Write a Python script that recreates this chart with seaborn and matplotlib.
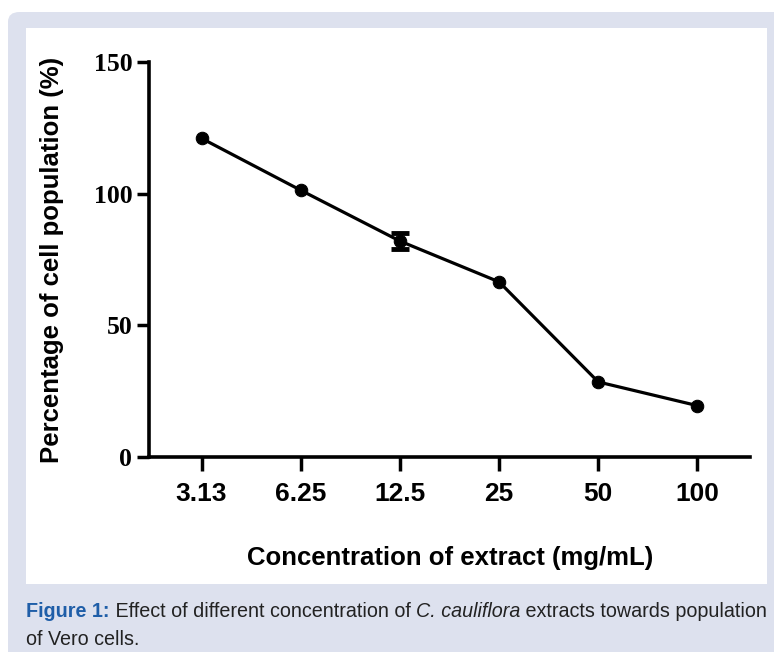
import matplotlib
matplotlib.use("Agg")
import matplotlib.pyplot as plt
from matplotlib.patches import FancyBboxPatch, Rectangle
import numpy as np
import pandas as pd
import seaborn as sns

# values
concentrations = ["3.13", "6.25", "12.5", "25", "50", "100"]
cell_population = [121.0, 101.3, 82.0, 66.5, 28.5, 19.5]
population_err = [0.0, 0.0, 3.2, 0.0, 0.0, 0.0]
y_ticks = [0, 50, 100, 150]

BAND = "#dde1ee"
CAPTION_BLUE = "#1f5ea8"


def main():
    sns.set_theme(style="white")
    plt.rcParams["font.family"] = ["Liberation Sans", "DejaVu Sans"]
    plt.rcParams["text.color"] = "black"
    plt.rcParams["xtick.color"] = "black"
    plt.rcParams["ytick.color"] = "black"

    df = pd.DataFrame({
        "pos": np.arange(len(concentrations)),
        "value": cell_population,
        "err": population_err,
    })

    fig = plt.figure(figsize=(7.74, 6.52), dpi=100)
    fig.patch.set_facecolor("white")

    # framed background like the journal figure box
    W, H = 774, 652
    fig.patches.append(FancyBboxPatch((8 / W, -0.05), 1.2, (652 - 12) / H + 0.05,
                                      boxstyle="round,pad=0,rounding_size=0.015",
                                      transform=fig.transFigure, facecolor=BAND,
                                      edgecolor="none", zorder=-2))
    fig.patches.append(Rectangle((26 / W, 1 - 584 / H), (767 - 26) / W, (584 - 28) / H,
                                 transform=fig.transFigure, facecolor="white",
                                 edgecolor="none", zorder=-1))

    ax = fig.add_axes([149 / W, 1 - 457 / H, (750 - 149) / W, (457 - 62) / H])
    ax.set_facecolor("none")
    ax.set_zorder(2)

    sns.lineplot(data=df, x="pos", y="value", color="black", linewidth=2.3,
                 marker="o", markersize=9, markeredgecolor="black", ax=ax, zorder=3)
    # only one point carries a visible error bar
    with_err = df[df["err"] > 0]
    ax.errorbar(with_err["pos"], with_err["value"], yerr=with_err["err"], fmt="none",
                ecolor="black", elinewidth=2.5, capsize=6.5, capthick=3.5, zorder=4)

    ax.set_xlim(-0.53, 5.53)
    ax.set_ylim(0, 150)
    ax.set_xticks(df["pos"])
    ax.set_xticklabels(concentrations, fontsize=19, fontweight="bold")
    ax.set_yticks(y_ticks)
    ax.set_yticklabels([str(t) for t in y_ticks], fontsize=18.5, fontweight="bold",
                       family=["Liberation Serif", "DejaVu Serif"])
    ax.tick_params(axis="both", direction="out", width=2.5, color="black",
                   bottom=True, left=True)
    ax.tick_params(axis="x", length=10, pad=8)
    ax.tick_params(axis="y", length=9, pad=3)

    for side in ["top", "right"]:
        ax.spines[side].set_visible(False)
    for side in ["left", "bottom"]:
        ax.spines[side].set_linewidth(2.6)
        ax.spines[side].set_color("black")

    ax.set_xlabel("")
    ax.set_ylabel("")
    fig.text(450 / W, 1 - 558 / H, "Concentration of extract (mg/mL)", fontsize=18.5,
             fontweight="bold", ha="center", va="center")
    fig.text(52 / W, 1 - 260 / H, "Percentage of cell population (%)", fontsize=18.5,
             fontweight="bold", ha="center", va="center", rotation=90)

    # caption with mixed styles
    cap_font = ["Liberation Sans Narrow", "Liberation Sans", "DejaVu Sans"]
    cap_size = 14.2
    t = fig.text(26 / W, 1 - 617 / H, "Figure 1:", fontsize=cap_size, fontweight="bold",
                 color=CAPTION_BLUE, family=cap_font, va="baseline")
    t = ax.annotate(" Effect of different concentration of ", xy=(1, 0), xycoords=t,
                    fontsize=cap_size, color="#222222", family=cap_font, va="bottom",
                    annotation_clip=False)
    t = ax.annotate("C. cauliflora", xy=(1, 0), xycoords=t, fontsize=cap_size,
                    style="italic", color="#222222", family=cap_font, va="bottom",
                    annotation_clip=False)
    ax.annotate(" extracts towards population", xy=(1, 0), xycoords=t, fontsize=cap_size,
                color="#222222", family=cap_font, va="bottom", annotation_clip=False)
    fig.text(26 / W, 1 - 645 / H, "of Vero cells.", fontsize=cap_size, color="#222222",
             family=cap_font, va="baseline")

    fig.savefig("out.png", dpi=100, facecolor=fig.get_facecolor())


if __name__ == "__main__":
    main()
